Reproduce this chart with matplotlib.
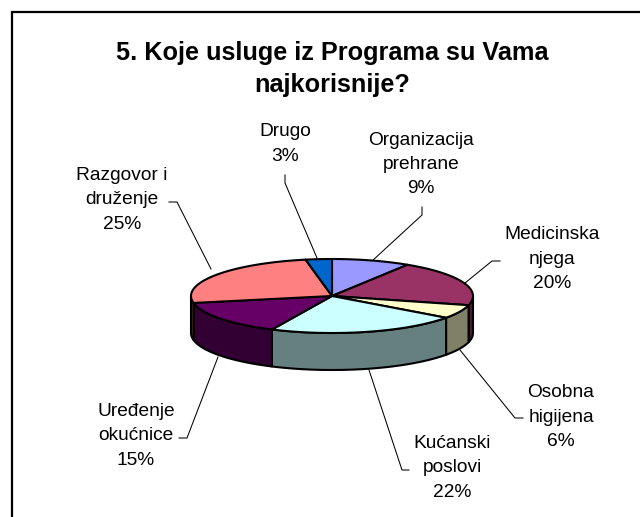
import numpy as np
import matplotlib
matplotlib.use("Agg")
import matplotlib.pyplot as plt
from matplotlib.patches import Rectangle

title = "5. Koje usluge iz Programa su Vama\nnajkorisnije?"
categories = ["Organizacija\nprehrane", "Medicinska\nnjega", "Osobna\nhigijena", "Kućanski\nposlovi",
              "Uređenje\nokućnice", "Razgovor i\ndruženje", "Drugo"]
values = [9, 20, 6, 22, 15, 25, 3]
top_colors = ["#9999FF", "#993366", "#FFFFCC", "#CCFFFF", "#660066", "#FF8080", "#0066CC"]
side_colors = ["#4D4D80", "#4D1A33", "#808066", "#668080", "#330033", "#804040", "#003366"]
label_xy = [(421, 164.5), (552, 259), (561, 417), (452, 468), (136, 436), (122, 200), (285, 144)]
leader_paths = [
    [(422, 207), (422, 215), (372, 261)],
    [(500, 261), (492, 261), (465, 283)],
    [(523, 418), (515, 418), (460, 350)],
    [(409, 470), (402, 470), (369, 370)],
    [(179, 438), (187, 438), (218, 357)],
    [(169, 202), (177, 202), (211, 269)],
    [(285, 175), (285, 183), (317, 258)],
]

cx, cy, rx, ry, depth = 332, 296, 141, 37, 37
line_w = 1.5

fig = plt.figure(figsize=(6.4, 5.17), dpi=100)
ax = fig.add_axes([0, 0, 1, 1])
ax.set_xlim(0, 640)
ax.set_ylim(517, 0)
ax.axis("off")
plt.rcParams["font.family"] = ["Liberation Sans", "DejaVu Sans"]

ax.add_patch(Rectangle((12, 12), 1000, 1000, fc="white", ec="black", lw=1.6, zorder=0))

ax.text(cx, 69, title, ha="center", va="center", fontsize=18.2, fontweight="bold",
        linespacing=1.42, family="Liberation Sans", zorder=5)

edges = np.cumsum([0] + values) / sum(values) * 2 * np.pi


def px(t):
    return cx + rx * np.sin(t)


def py(t):
    return cy - ry * np.cos(t)


# side walls: only the front half of the rim is visible
for i in range(len(values)):
    a0, a1 = max(edges[i], np.pi / 2), min(edges[i + 1], 3 * np.pi / 2)
    if a1 <= a0:
        continue
    t = np.linspace(a0, a1, 80)
    xs = np.r_[px(t), px(t[::-1])]
    ys = np.r_[py(t), py(t[::-1]) + depth]
    ax.fill(xs, ys, fc=side_colors[i], ec="black", lw=line_w, joinstyle="round", zorder=2)

# top face
for i in range(len(values)):
    t = np.linspace(edges[i], edges[i + 1], 120)
    xs = np.r_[cx, px(t)]
    ys = np.r_[cy, py(t)]
    ax.fill(xs, ys, fc=top_colors[i], ec="black", lw=line_w, joinstyle="round", zorder=3)

for path in leader_paths:
    p = np.array(path)
    ax.plot(p[:, 0], p[:, 1], color="black", lw=0.75, zorder=1)

for name, v, (x, y) in zip(categories, values, label_xy):
    ax.text(x, y, f"{name}\n{v}%", ha="center", va="center", fontsize=13.8,
            linespacing=1.56, family="Liberation Sans", zorder=5)

fig.savefig("out.png", dpi=100, facecolor="white")
